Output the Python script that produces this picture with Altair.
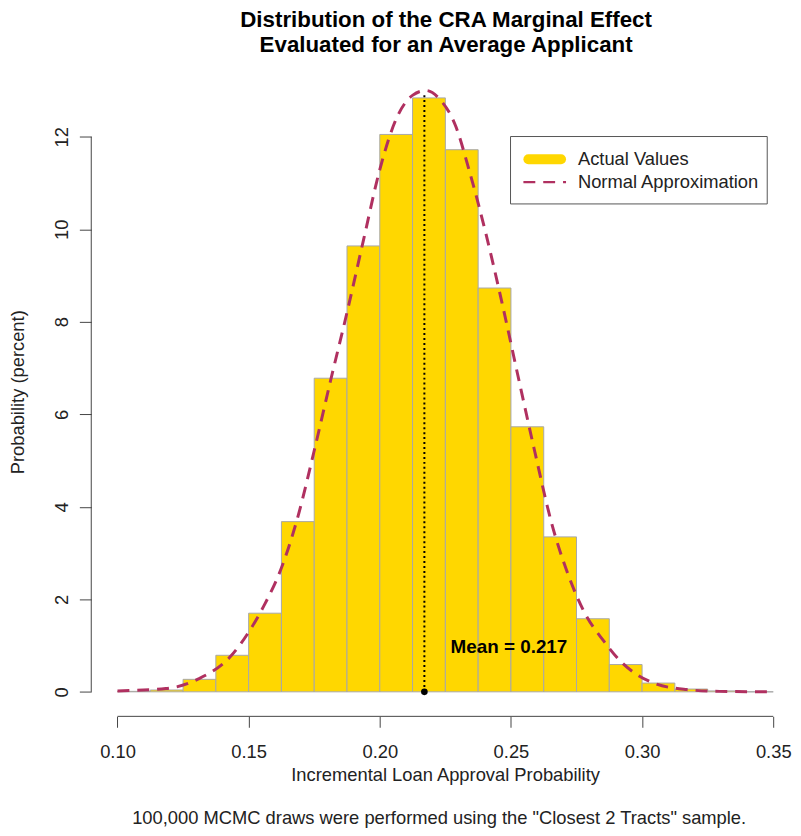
import altair as alt
import pandas as pd

# ---------------- data ----------------
bin_start = [0.1000, 0.1125, 0.1250, 0.1375, 0.1500, 0.1625, 0.1750, 0.1875, 0.2000, 0.2125,
             0.2250, 0.2375, 0.2500, 0.2625, 0.2750, 0.2875, 0.3000, 0.3125, 0.3250, 0.3375]
bin_end = [0.1125, 0.1250, 0.1375, 0.1500, 0.1625, 0.1750, 0.1875, 0.2000, 0.2125, 0.2250,
           0.2375, 0.2500, 0.2625, 0.2750, 0.2875, 0.3000, 0.3125, 0.3250, 0.3375, 0.3500]
bin_pct = [0.01, 0.04, 0.27, 0.79, 1.70, 3.68, 6.78, 9.64, 12.05, 12.84,
           11.72, 8.73, 5.73, 3.35, 1.58, 0.59, 0.19, 0.06, 0.02, 0.00]

curve_x = [0.1000, 0.1184, 0.1309, 0.1435, 0.1510, 0.1561, 0.1623, 0.1686, 0.1749, 0.1812,
           0.1875, 0.1938, 0.2000, 0.2063, 0.2126, 0.2176, 0.2227, 0.2290, 0.2340, 0.2403,
           0.2466, 0.2528, 0.2591, 0.2654, 0.2717, 0.2780, 0.2855, 0.2918, 0.2981, 0.3044,
           0.3169, 0.3295, 0.3500]
curve_y = [0.02, 0.07, 0.28, 0.79, 1.38, 1.89, 2.65, 3.75, 5.19, 6.72,
           8.20, 9.77, 11.29, 12.39, 12.90, 13.00, 12.82, 12.22, 11.29, 9.94,
           8.41, 6.80, 5.19, 3.67, 2.55, 1.72, 1.09, 0.66, 0.37, 0.19,
           0.05, 0.01, 0.00]

mean_value = 0.217
mean_line_top = 12.95
mean_label_x = 0.227
mean_label_y = 0.96

x_ticks = [0.10, 0.15, 0.20, 0.25, 0.30, 0.35]
y_ticks = [0, 2, 4, 6, 8, 10, 12]

title_lines = ["Distribution of the CRA Marginal Effect", "Evaluated for an Average Applicant"]
x_title = "Incremental Loan Approval Probability"
y_title = "Probability (percent)"
caption = '100,000 MCMC draws were performed using the "Closest 2 Tracts" sample.'
legend_labels = ["Actual Values", "Normal Approximation"]

# ---------------- styling ----------------
FONT = "Liberation Sans"
GOLD = "#FFD700"
MAROON = "#B03060"
AXIS_COLOR = "#444444"
TXT = "#222222"
FS = 18.5
W, H = 696, 655

xscale = alt.Scale(domain=[0.09, 0.353], nice=False, zero=False)
yscale = alt.Scale(domain=[-0.53, 13.505], nice=False, zero=False)

bars_df = pd.DataFrame({"start": bin_start, "end": bin_end, "pct": bin_pct})
curve_df = pd.DataFrame({"x": curve_x, "y": curve_y})
mean_df = pd.DataFrame({"x": [mean_value], "y0": [0.0], "y1": [mean_line_top],
                        "lx": [mean_label_x], "ly": [mean_label_y],
                        "label": [f"Mean = {mean_value:.3f}"]})
xaxis_df = pd.DataFrame({"x": [x_ticks[0]], "x2": [x_ticks[-1]]})
yaxis_df = pd.DataFrame({"y": [y_ticks[0]], "y2": [y_ticks[-1]]})
one = pd.DataFrame({"k": [0]})

x_axis = alt.Axis(values=x_ticks, format=".2f", domain=False, grid=False,
                  tickSize=11, tickColor=AXIS_COLOR, labelFontSize=FS, labelFont=FONT,
                  labelColor=TXT, labelPadding=16,
                  title=x_title, titleFont=FONT, titleFontSize=FS, titleFontWeight="normal",
                  titleColor=TXT, titleX=357, titleY=59, titleAlign="center",
                  titleBaseline="middle")
y_axis = alt.Axis(values=y_ticks, domain=False, grid=False,
                  tickSize=12, tickColor=AXIS_COLOR, labelFontSize=FS, labelFont=FONT,
                  labelColor=TXT, labelAngle=270, labelAlign="center",
                  labelBaseline="bottom", labelPadding=8,
                  title=y_title, titleFont=FONT, titleFontSize=FS, titleFontWeight="normal",
                  titleColor=TXT, titleAngle=270, titleX=-74, titleY=327.5,
                  titleAlign="center", titleBaseline="middle")

bars = alt.Chart(bars_df).mark_rect(color=GOLD, stroke="#A8A8A8", strokeWidth=1).encode(
    x=alt.X("start:Q", scale=xscale, axis=x_axis),
    x2="end:Q",
    y=alt.Y("pct:Q", scale=yscale, axis=y_axis),
    y2=alt.datum(0),
)

curve = alt.Chart(curve_df).mark_line(color=MAROON, strokeWidth=3, strokeDash=[12, 8],
                                      interpolate="monotone").encode(
    x=alt.X("x:Q", scale=xscale),
    y=alt.Y("y:Q", scale=yscale),
)

mean_rule = alt.Chart(mean_df).mark_rule(color="black", strokeWidth=2, strokeDash=[2, 3]).encode(
    x=alt.X("x:Q", scale=xscale), y=alt.Y("y0:Q", scale=yscale), y2="y1:Q")
mean_dot = alt.Chart(mean_df).mark_circle(color="black", size=45, opacity=1).encode(
    x=alt.X("x:Q", scale=xscale), y=alt.Y("y0:Q", scale=yscale))
mean_text = alt.Chart(mean_df).mark_text(align="left", baseline="middle", fontSize=19,
                                         fontWeight="bold", font=FONT, color="black").encode(
    x=alt.X("lx:Q", scale=xscale), y=alt.Y("ly:Q", scale=yscale), text="label:N")

x_line = alt.Chart(xaxis_df).mark_rule(color=AXIS_COLOR, strokeWidth=1).encode(
    x=alt.X("x:Q", scale=xscale), x2="x2:Q", y=alt.value(H))
y_line = alt.Chart(yaxis_df).mark_rule(color=AXIS_COLOR, strokeWidth=1).encode(
    y=alt.Y("y:Q", scale=yscale), y2="y2:Q", x=alt.value(0))

# legend (drawn by hand to match the R-style box)
leg_box = alt.Chart(one).mark_rect(fill="white", stroke="#555555", strokeWidth=1).encode(
    x=alt.value(423), x2=alt.value(682), y=alt.value(70), y2=alt.value(138))
leg_gold = alt.Chart(one).mark_rule(color=GOLD, strokeWidth=10, strokeCap="round").encode(
    x=alt.value(441), x2=alt.value(474), y=alt.value(93))
leg_dash = alt.Chart(one).mark_rule(color=MAROON, strokeWidth=2.5, strokeDash=[12, 8]).encode(
    x=alt.value(436), x2=alt.value(479), y=alt.value(116))
leg_t1 = alt.Chart(one).mark_text(align="left", baseline="middle", fontSize=FS, font=FONT,
                                  color=TXT, text=legend_labels[0]).encode(
    x=alt.value(491), y=alt.value(93))
leg_t2 = alt.Chart(one).mark_text(align="left", baseline="middle", fontSize=FS, font=FONT,
                                  color=TXT, text=legend_labels[1]).encode(
    x=alt.value(491), y=alt.value(116))

cap = alt.Chart(one).mark_text(align="center", baseline="middle", fontSize=FS, font=FONT,
                               color=TXT, text=caption).encode(
    x=alt.value(351), y=alt.value(758))

chart = alt.layer(
    bars, curve, mean_rule, mean_dot, mean_text, x_line, y_line,
    leg_box, leg_gold, leg_dash, leg_t1, leg_t2, cap,
).properties(
    width=W, height=H,
    autosize=alt.AutoSizeParams(type="none"),
    padding={"left": 84, "top": 56, "right": 12, "bottom": 112},
    title=alt.TitleParams(text=title_lines, fontSize=22.5, fontWeight="bold", font=FONT,
                          anchor="middle", offset=11, lineHeight=25, dx=10, color="black"),
    background="white",
).configure_view(stroke=None)

chart.save("out.html", embed_options={"renderer": "svg", "actions": False})
